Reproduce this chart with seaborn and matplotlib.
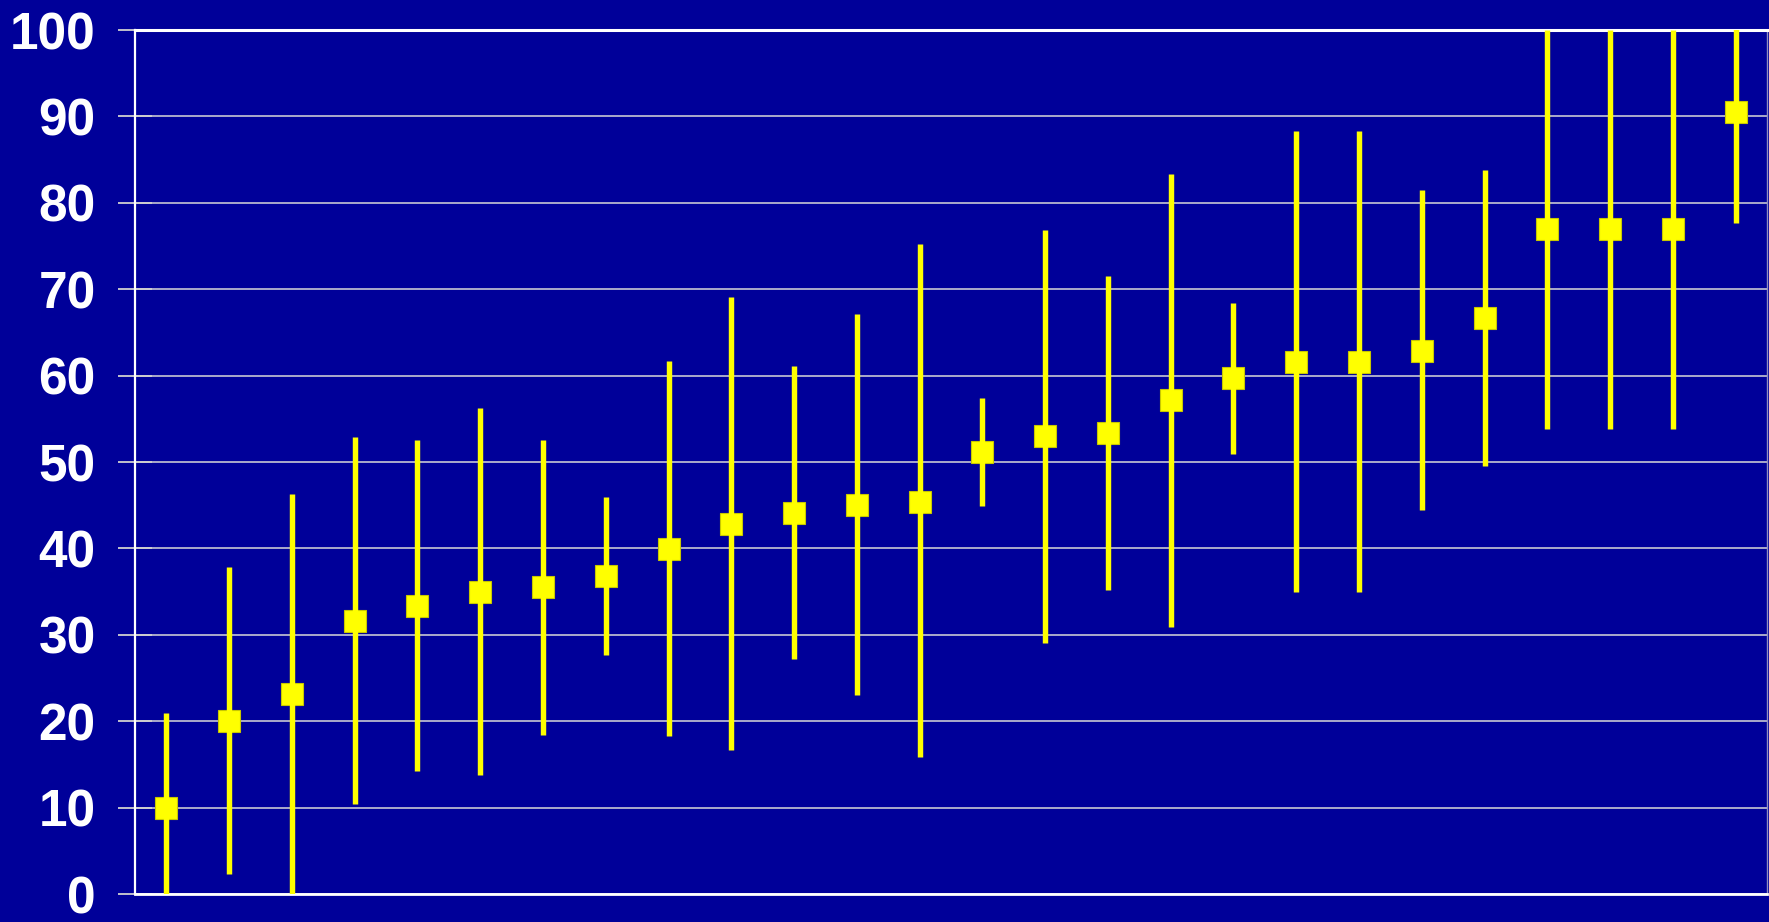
import matplotlib
matplotlib.use("Agg")
import matplotlib.pyplot as plt
import seaborn as sns
import pandas as pd

categories = [f"S{i+1}" for i in range(26)]
centers = [10, 20, 23.1, 31.6, 33.3, 35.0, 35.5, 36.8, 39.9, 42.8, 44.1, 45.0, 45.4,
           51.2, 53.0, 53.4, 57.2, 59.7, 61.6, 61.6, 62.9, 66.7, 77.0, 77.0, 77.0, 90.5]
uppers = [21.0, 37.9, 46.3, 52.9, 52.5, 56.3, 52.6, 46.0, 61.7, 69.1, 61.1, 67.1, 75.2,
          57.4, 76.9, 71.5, 83.3, 68.4, 88.3, 88.3, 81.5, 83.8, 100.0, 100.0, 100.0, 100.3]
lowers = [-0.3, 2.3, 0.0, 10.4, 14.2, 13.8, 18.4, 27.7, 18.3, 16.7, 27.2, 23.0, 15.8,
          44.9, 29.0, 35.2, 30.9, 50.9, 34.9, 34.9, 44.4, 49.5, 53.8, 53.8, 53.8, 77.7]
yticks = list(range(0, 101, 10))

rows = []
for c, lo, mid, hi in zip(categories, lowers, centers, uppers):
    for v in (lo, mid, hi):
        rows.append({"cat": c, "val": v})
df = pd.DataFrame(rows)

BG = "#000099"
sns.set_style("white")
plt.rcParams["font.family"] = ["Liberation Sans", "DejaVu Sans"]

fig = plt.figure(figsize=(17.69, 9.22), dpi=100, facecolor=BG)
ax = fig.add_axes([135/1769, 28/922, (1767-135)/1769, (894-30)/922])
ax.set_facecolor(BG)

sns.pointplot(data=df, x="cat", y="val", order=categories,
              estimator="median", errorbar=lambda v: (v.min(), v.max()),
              linestyle="none", marker="s", color="#FFFF00",
              markersize=15.5, markeredgecolor="#C8C800", markeredgewidth=0.8,
              err_kws={"linewidth": 3.9, "color": "#FFFF00", "solid_capstyle": "butt"},
              ax=ax, zorder=3)

ax.set_xlim(-0.5, len(categories) - 0.5)
ax.set_ylim(0, 100)
ax.set_yticks(yticks)
ax.set_yticklabels([str(t) for t in yticks], fontsize=37, fontweight="bold", color="white")
ax.set_xticks([])
ax.set_xlabel("")
ax.set_ylabel("")
ax.tick_params(axis="y", left=True, direction="inout", length=24.5, width=1.3,
               color="#D0D0D0", pad=16)
ax.yaxis.grid(True, color="#D8D8D8", linewidth=1.1)
ax.set_axisbelow(True)

for side, lw, col in (("top", 2.2, "white"), ("left", 1.6, "white"),
                      ("bottom", 2.0, "white"), ("right", 1.0, "#9090C0")):
    ax.spines[side].set_visible(True)
    ax.spines[side].set_color(col)
    ax.spines[side].set_linewidth(lw)

fig.savefig("out.png", dpi=100, facecolor=BG)
